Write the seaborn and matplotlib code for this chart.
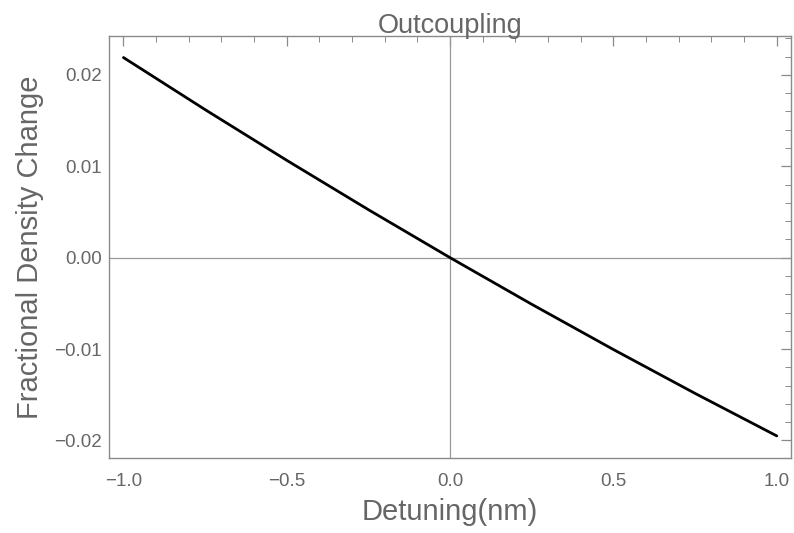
import numpy as np
import pandas as pd
import matplotlib
matplotlib.use("Agg")
import matplotlib.pyplot as plt
from matplotlib.ticker import MultipleLocator, FuncFormatter
import seaborn as sns

# values
detuning = [-1.0, -0.75, -0.5, -0.25, 0.0, 0.25, 0.5, 0.75, 1.0]
density_change = [0.0219, 0.0162, 0.01065, 0.00525, 0.0, -0.0051, -0.01005, -0.01485, -0.0195]

sns.set_style("white")
plt.rcParams["font.family"] = ["Liberation Sans", "DejaVu Sans"]

frame_col = "#8a8a8a"
text_col = "#666666"

fig = plt.figure(figsize=(7.94, 5.33), dpi=100)
ax = fig.add_axes([0.137, 0.141, 0.859, 0.7915])

df = pd.DataFrame({"x": detuning, "y": density_change})

# axis lines through the origin
ax.axhline(0, color="#999999", lw=0.9, zorder=1)
ax.axvline(0, color="#999999", lw=0.9, zorder=1)

sns.lineplot(data=df, x="x", y="y", color="black", lw=2.0, ax=ax, zorder=3)

ax.set_xlim(-1.045, 1.043)
ax.set_ylim(-0.0219, 0.02426)

ax.xaxis.set_major_locator(MultipleLocator(0.5))
ax.xaxis.set_minor_locator(MultipleLocator(0.1))
ax.yaxis.set_major_locator(MultipleLocator(0.01))
ax.yaxis.set_minor_locator(MultipleLocator(0.002))
ax.xaxis.set_major_formatter(FuncFormatter(lambda v, p: f"{v:.1f}".replace("-", "\u2212")))
ax.yaxis.set_major_formatter(FuncFormatter(lambda v, p: f"{v:.2f}".replace("-", "\u2212")))

ax.tick_params(which="both", direction="in", top=True, right=True, color=frame_col,
               labelcolor=text_col, labelsize=13.5)
ax.tick_params(which="major", length=7, width=0.9)
ax.tick_params(which="minor", length=4, width=0.7)
ax.tick_params(axis="x", pad=11)
ax.tick_params(axis="y", pad=5)
for s in ax.spines.values():
    s.set_color(frame_col)
    s.set_linewidth(1.0)

ax.set_title("Outcoupling", color=text_col, fontsize=19.5, pad=2)
ax.set_xlabel("Detuning(nm)", color=text_col, fontsize=21, labelpad=6)
ax.set_ylabel("Fractional Density Change", color=text_col, fontsize=21, labelpad=7)

fig.savefig("out.png", dpi=100)
